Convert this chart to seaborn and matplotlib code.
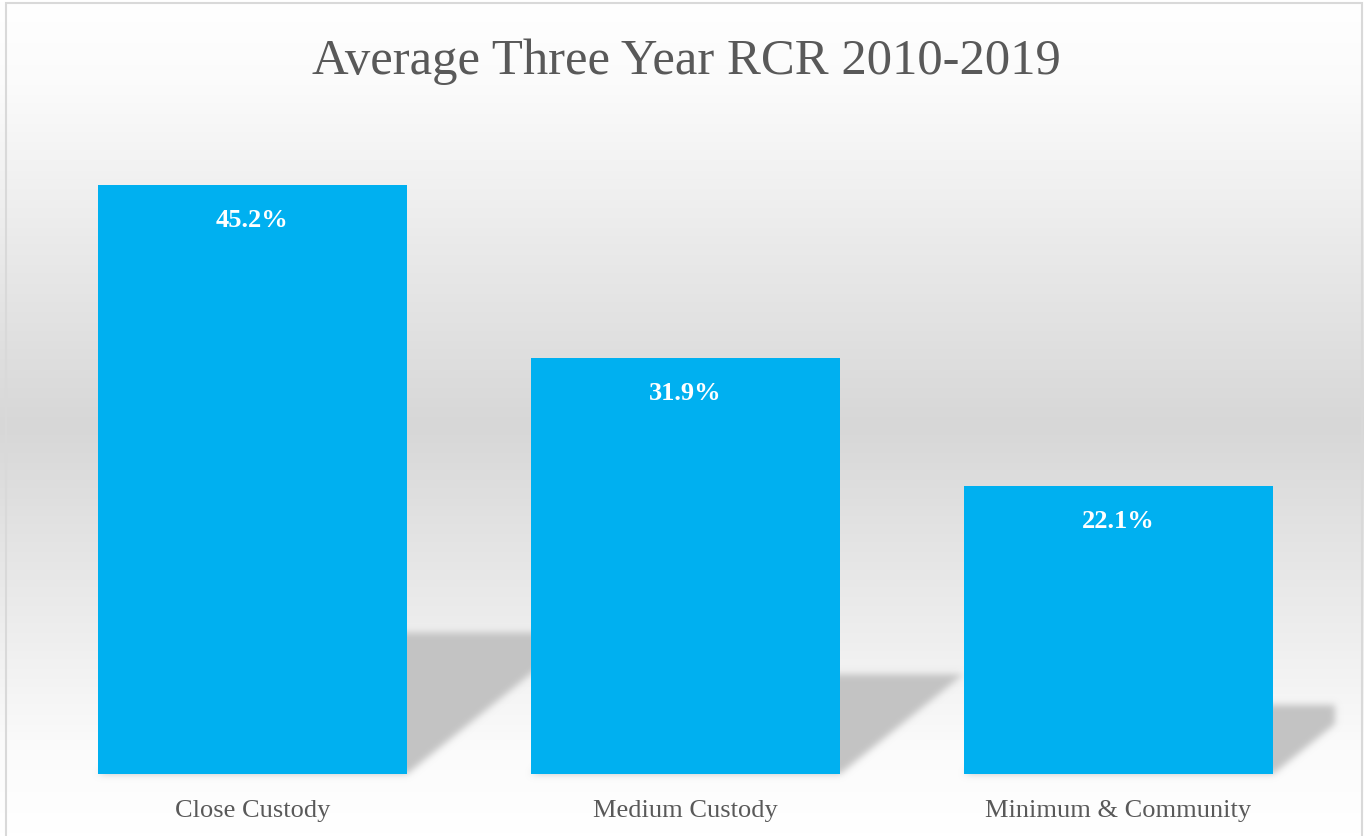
import numpy as np
import pandas as pd
import seaborn as sns
import matplotlib.pyplot as plt
from matplotlib.patches import Polygon, Rectangle
from matplotlib.colors import LinearSegmentedColormap

# Data
categories = ["Close Custody", "Medium Custody", "Minimum & Community"]
rcr_values = [45.2, 31.9, 22.1]
value_labels = ["45.2%", "31.9%", "22.1%"]

df = pd.DataFrame({"category": categories, "rcr": rcr_values})

sns.set_theme(style="white")
plt.rcParams['font.family'] = ['Liberation Serif', 'DejaVu Serif']

W, H = 1364, 837
fig = plt.figure(figsize=(W / 100, H / 100), dpi=100)

# background gradient (white - grey - white) over the chart area
bg = fig.add_axes([0, 0, 1, 1], zorder=0)
grad_cmap = LinearSegmentedColormap.from_list(
    "bg", [(0.0, "#ffffff"), (0.1, "#fbfbfb"), (0.51, "#d7d7d7"), (0.9, "#fbfbfb"), (1.0, "#ffffff")])
bg.imshow(np.linspace(0, 1, 400).reshape(-1, 1), aspect="auto", cmap=grad_cmap,
          extent=[0, 1, 0, 1], origin="upper")
bg.add_patch(Rectangle((6 / W, -0.01), (W - 8) / W, 1 - 4 / H + 0.01, fill=False,
                       edgecolor="#d9d9d9", linewidth=1.5))
bg.set_xlim(0, 1)
bg.set_ylim(0, 1)
bg.axis("off")

# plot area
left, right = 36 / W, 1335 / W
bottom = (H - 775) / H
top = (H - 123.5) / H
ax = fig.add_axes([left, bottom, right - left, top - bottom], zorder=1)
ax.patch.set_alpha(0)

sns.barplot(data=df, x="category", y="rcr", color="#00B0F0", saturation=1,
            width=0.714, linewidth=0, ax=ax, zorder=3)

ax.set_xlim(-0.5, 2.5)
ax.set_ylim(0, 50)
ax.set_xlabel("")
ax.set_ylabel("")
ax.set_yticks([])
for s in ax.spines.values():
    s.set_visible(False)
ax.tick_params(axis="x", length=0, pad=18, labelsize=19, labelcolor="#595959")

SHADOW_RGB = np.array([0.765, 0.765, 0.765])


def gauss_blur(im, dpi, sigma=3.5):
    # blur only the alpha channel, keep a flat shadow colour
    pad = int(sigma * 3)
    alpha = np.pad(im[:, :, 3], pad)
    k = np.exp(-np.arange(-pad, pad + 1) ** 2 / (2 * sigma ** 2))
    k /= k.sum()
    alpha = np.apply_along_axis(lambda m: np.convolve(m, k, mode="same"), 0, alpha)
    alpha = np.apply_along_axis(lambda m: np.convolve(m, k, mode="same"), 1, alpha)
    out = np.zeros(alpha.shape + (4,))
    out[:, :, :3] = SHADOW_RGB
    out[:, :, 3] = alpha
    return out, -pad, -pad


# perspective shadows behind each bar
for bar in ax.patches:
    x0 = bar.get_x()
    x1 = x0 + bar.get_width()
    h = bar.get_height()
    sh = 0.24 * h
    dx = 0.00892 * h
    poly = Polygon([(x0, 0), (x1, 0), (x1 + dx, sh), (x0 + dx, sh)], closed=True,
                   facecolor="#c3c3c3", edgecolor="none", zorder=2)
    poly.set_agg_filter(gauss_blur)
    ax.add_patch(poly)

# value labels inside bars
for bar, lab in zip(ax.patches, value_labels):
    ax.annotate(lab, (bar.get_x() + bar.get_width() / 2, bar.get_height()),
                xytext=(0, -24.5), textcoords="offset points", ha="center", va="center",
                color="white", fontsize=19, fontweight="bold", zorder=4)

fig.text(686 / W, 1 - 62 / H, "Average Three Year RCR 2010-2019", ha="center", va="center",
         fontsize=36.5, color="#595959")

fig.savefig("out.png", dpi=100)
